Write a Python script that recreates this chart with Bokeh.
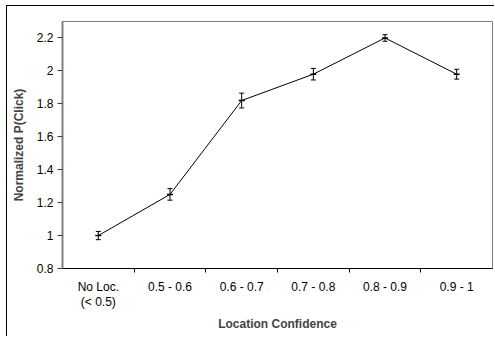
from bokeh.plotting import figure
from bokeh.models import ColumnDataSource, Whisker, TeeHead, FixedTicker, Range1d
from bokeh.embed import file_html
from bokeh.resources import INLINE

categories = ["No Loc.\n(< 0.5)", "0.5 - 0.6", "0.6 - 0.7", "0.7 - 0.8", "0.8 - 0.9", "0.9 - 1"]
values = [1.00, 1.25, 1.82, 1.98, 2.20, 1.98]
errors = [0.025, 0.035, 0.045, 0.035, 0.02, 0.03]
y_ticks = [0.8, 1.0, 1.2, 1.4, 1.6, 1.8, 2.0, 2.2]
y_tick_labels = ["0.8", "1", "1.2", "1.4", "1.6", "1.8", "2", "2.2"]

xs = list(range(len(categories)))
src = ColumnDataSource(dict(
    x=xs, y=values,
    lo=[v - e for v, e in zip(values, errors)],
    hi=[v + e for v, e in zip(values, errors)],
))

FONT = "Liberation Sans"

p = figure(width=488, height=331, output_backend="svg", toolbar_location=None,
           x_range=Range1d(-0.5, len(categories) - 0.5), y_range=Range1d(0.8, 2.3),
           min_border_left=55, min_border_top=15, min_border_right=3, min_border_bottom=69)
p.styles = {"margin-left": "7px", "margin-top": "6px",
            "box-shadow": "-1px -1px 0px 0px black"}
p.outline_line_color = "#808080"
p.outline_line_width = 1
p.border_fill_color = "white"
p.background_fill_color = "white"
p.grid.visible = False

p.line("x", "y", source=src, line_color="black", line_width=1)
w = Whisker(source=src, base="x", lower="lo", upper="hi", line_color="black", line_width=1,
            upper_head=TeeHead(size=5, line_color="black", line_width=1),
            lower_head=TeeHead(size=5, line_color="black", line_width=1))
p.add_layout(w)
p.scatter("x", "y", source=src, marker="dash", size=6, line_color="black", line_width=1.5)

# x axis
xa = p.xaxis[0]
xa.ticker = FixedTicker(ticks=xs, minor_ticks=[i + 0.5 for i in xs[:-1]])
xa.major_label_overrides = {i: c for i, c in zip(xs, categories)}
xa.major_tick_out = 0
xa.major_tick_in = 0
xa.minor_tick_out = 4
xa.minor_tick_in = 0
xa.minor_tick_line_color = "black"
xa.axis_line_color = "black"
xa.major_label_standoff = 7
xa.major_label_text_font = FONT
xa.major_label_text_font_size = "12px"
xa.major_label_text_line_height = 1.1
xa.major_label_text_color = "black"
xa.axis_label = "Location Confidence"
xa.axis_label_text_font = FONT
xa.axis_label_text_font_size = "12px"
xa.axis_label_text_font_style = "bold"
xa.axis_label_standoff = 5

# y axis
ya = p.yaxis[0]
ya.ticker = FixedTicker(ticks=y_ticks, minor_ticks=[])
ya.major_label_overrides = {t: l for t, l in zip(y_ticks, y_tick_labels)}
ya.axis_line_color = "#808080"
ya.axis_line_width = 2
ya.major_tick_out = 5
ya.major_tick_in = 0
ya.major_tick_line_color = "#404040"
ya.major_label_standoff = 4
ya.major_label_text_font = FONT
ya.major_label_text_font_size = "12px"
ya.major_label_text_color = "black"
ya.axis_label = "Normalized P(Click)"
ya.axis_label_text_font = FONT
ya.axis_label_text_font_size = "12px"
ya.axis_label_text_font_style = "bold"
ya.axis_label_standoff = 8

open("out.html", "w").write(file_html(p, INLINE))
